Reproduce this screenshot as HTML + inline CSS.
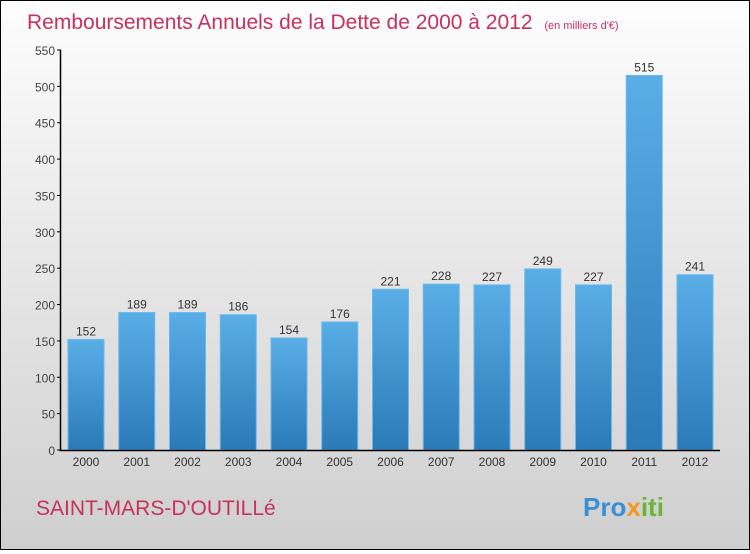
<!DOCTYPE html>
<html><head><meta charset="utf-8"><style>
body{margin:0}
#c{width:748px;height:548px;border:1px solid #000;background:linear-gradient(#fdfdfd,#cfcfcf);position:relative;font-family:"Liberation Sans",sans-serif}
</style></head><body>
<div id="c">
<svg width="748" height="548" viewBox="1 1 748 548" xmlns="http://www.w3.org/2000/svg">
<defs><linearGradient id="bg" x1="0" y1="0" x2="0" y2="1"><stop offset="0" stop-color="#5aaee6"/><stop offset="1" stop-color="#2a7ab8"/></linearGradient></defs>
<text x="27" y="29" font-size="21" fill="#c8315f">Remboursements Annuels de la Dette de 2000 à 2012 <tspan font-size="11" dx="6">(en milliers d'€)</tspan></text>
<g id="plot"></g>
<text x="36" y="515" font-size="21" fill="#c8315f">SAINT-MARS-D'OUTILLé</text>
<text x="583" y="516" font-size="26" font-weight="bold" fill="#3b8fd6">Pro<tspan fill="#f29a1f">x</tspan><tspan fill="#6bb536">iti</tspan></text>
</svg></div>
<script>
const years=["2000","2001","2002","2003","2004","2005","2006","2007","2008","2009","2010","2011","2012"];
const values=[152,189,189,186,154,176,221,228,227,249,227,515,241];
const ticks=[0,50,100,150,200,250,300,350,400,450,500,550];
const ns="http://www.w3.org/2000/svg",g=document.getElementById('plot');
const y=v=>450-v*400/550, x=i=>86+i*50.75;
function mk(t,a){const e=document.createElementNS(ns,t);for(const k in a)e.setAttribute(k,a[k]);g.appendChild(e);return e;}
ticks.forEach(t=>{
 const l=mk('line',{x1:57,x2:61,y1:y(t),y2:y(t),stroke:'#000'});
 
 
 const tx=mk('text',{x:55,y:y(t)+5,'text-anchor':'end','font-size':12,fill:'#444'});tx.textContent=t;
 
 
});
values.forEach((v,i)=>{
 const r=mk('rect',{x:x(i)-18,y:y(v),width:36,height:450-y(v),fill:'url(#bg)',stroke:'#6ab8ee','stroke-width':1});
 
 
 const t=mk('text',{x:x(i),y:y(v)-4,'text-anchor':'middle','font-size':12,fill:'#333'});t.textContent=v;
 
 
 const yl=mk('text',{x:x(i),y:466,'text-anchor':'middle','font-size':12,fill:'#333'});yl.textContent=years[i];
 
 
});
const ax=mk('path',{d:'M60.5 50 V450.5 H720',stroke:'#000',fill:'none','stroke-width':1.5});


</script>
</body></html>
